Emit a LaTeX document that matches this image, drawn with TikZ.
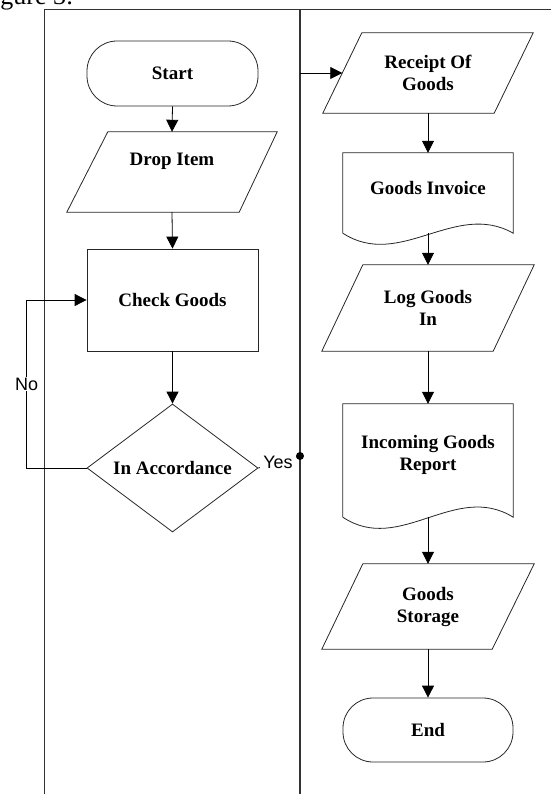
\documentclass[tikz,border=0pt]{standalone}
\usepackage{fontspec}
\setmainfont{Liberation Serif}
\newfontfamily\sansfam{Liberation Sans}
\usetikzlibrary{arrows.meta,shapes.geometric,calc}
\begin{document}
\begin{tikzpicture}[x=1pt,y=-1pt,
  lane/.style={draw=black!80, line width=1.5pt},
  shp/.style={draw=black!85, line width=0.8pt},
  lbl/.style={font=\fontsize{19}{22}\selectfont\bfseries, align=center, inner sep=0pt},
  sans/.style={font=\sansfam\fontsize{18}{20}\selectfont, fill=white, inner sep=0.5pt},
  arr/.style={draw=black, line width=0.8pt, -{Triangle[length=12pt,width=12pt]}},
  link/.style={draw=black, line width=0.8pt},
  term/.style={shp, lbl, rounded corners=30pt},
  slot/.style={inner sep=0pt, minimum width=#1},
]
\useasboundingbox (0,0) rectangle (551,794);
\clip (0,0) rectangle (551,794);

% caption fragment
\node[anchor=base west, inner sep=0pt, font=\fontsize{26}{28}\selectfont] (fig) at (-21.5,4.5) {Figure 3:};

% lanes
\draw[lane] (551,9.5) -- (44.5,9.5) -- (44.5,794);
\draw[lane] (300,9.5) -- (300,794);

% left lane
\node[term, minimum width=171pt, minimum height=65pt] (start) at (172.5,73.5) {Start};

\node[slot=210pt, minimum height=80pt] (drop) at (172,172) {};
\draw[shp] ($(drop.north west)+(41,0)$) -- (drop.north east) -- ($(drop.south east)+(-38,0)$) -- (drop.south west) -- cycle;
\node[lbl] (dropt) at (172,161) {Drop Item};

\node[shp, lbl, minimum width=171pt, minimum height=102pt] (chk) at (172.5,300) {Check Goods};

\node[shp, diamond, minimum width=171pt, minimum height=128pt, inner sep=0pt] (dia) at (172.5,468) {};
\node[lbl] (diat) at (172.5,468) {In Accordance};

\node[circle, fill=black, inner sep=0pt, minimum size=8pt] (yd) at (300,456) {};

% right lane
\coordinate (lanein) at (300,73);
\node[slot=210pt, minimum height=80pt, lbl] (rec) at (428,73) {Receipt Of\\Goods};
\draw[shp] ($(rec.north west)+(39,0)$) -- (rec.north east) -- ($(rec.south east)+(-39,0)$) -- (rec.south west) -- cycle;
\coordinate (recin) at ($(rec.west)+(19.5,0)$);

\node[slot=170pt, minimum height=80pt] (inv) at (428,193) {};
\draw[shp] (inv.south west) -- (inv.north west) -- (inv.north east) -- (inv.south east)
  .. controls +(-58,-33) and +(57,37) .. (inv.south west);
\node[lbl] (invt) at (428,188) {Goods Invoice};

\node[slot=212pt, minimum height=86pt, lbl] (log) at (428,308) {Log Goods\\In};
\draw[shp] ($(log.north west)+(41,0)$) -- (log.north east) -- ($(log.south east)+(-41,0)$) -- (log.south west) -- cycle;

\node[slot=170pt, minimum height=113pt] (inc) at (428,460.5) {};
\draw[shp] (inc.south west) -- (inc.north west) -- (inc.north east) -- (inc.south east)
  .. controls +(-58,-36) and +(57,38) .. (inc.south west);
\node[lbl] (inct) at (428,455) {Incoming Goods\\Report};

\node[slot=212pt, minimum height=85pt, lbl] (sto) at (428,606.5) {Goods\\Storage};
\draw[shp] ($(sto.north west)+(41,0)$) -- (sto.north east) -- ($(sto.south east)+(-42,0)$) -- (sto.south west) -- cycle;

\node[term, minimum width=170pt, minimum height=64pt] (end) at (428,730) {End};

% connectors
\draw[arr] (start.south) -- (drop.north);
\draw[arr] (drop.south) -- (chk.north);
\draw[arr] (chk.south) -- (dia.north);
\draw[arr] (dia.west) -- ++(-60,0) |- node[pos=0.25, sans] (no) {No} (chk.west);
\draw[link] (dia.east) -- node[sans, inner xsep=3pt, pos=0.47] (yes) {Yes} (yd.center);

\draw[arr] (lanein) -- (recin);
\draw[arr] (rec.south) -- (inv.north);
\draw[arr] (inv.south) -- (log.north);
\draw[arr] (log.south) -- (inc.north);
\draw[arr] (inc.south) -- (sto.north);
\draw[arr] (sto.south) -- (end.north);
\end{tikzpicture}
\end{document}
